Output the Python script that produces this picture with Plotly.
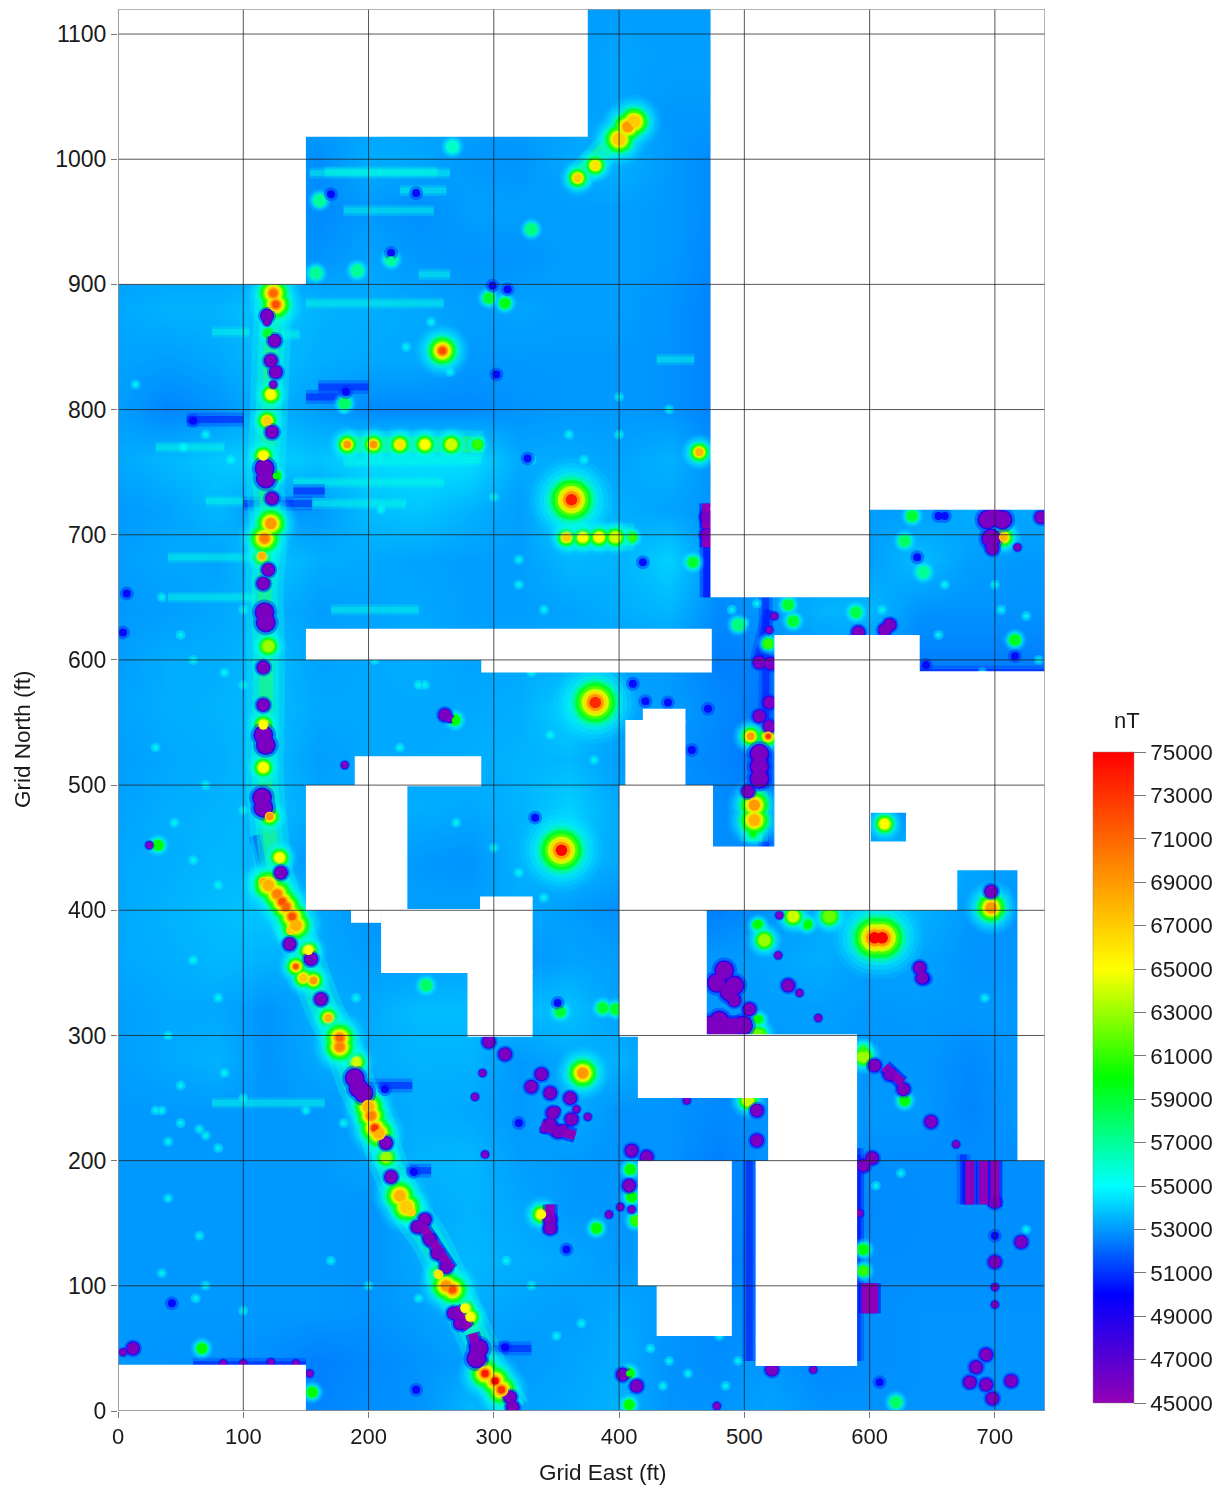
import plotly.graph_objects as go

# ---------- axis ticks ----------
east_ticks = [0, 100, 200, 300, 400, 500, 600, 700]
north_ticks = [0, 100, 200, 300, 400, 500, 600, 700, 800, 900, 1000, 1100]
bar_ticks = list(range(45000, 75001, 2000))

# ---------- colour scale ----------
scale_stops = [[0, "#9300b5"], [1/6, "#0000ff"], [2/6, "#00ffff"], [3/6, "#00ff00"],
               [4/6, "#ffff00"], [5/6, "#ff8000"], [1, "#ff0000"]]

# ---------- regional field, hundreds of nT, read top row (north 1120) to bottom (north 0) ----------
grid_east = [0, 40, 80, 120, 160, 200, 240, 280, 320, 360, 400, 440, 480, 520, 560, 600, 640, 680, 720, 760]
grid_north = list(range(1120, -1, -40))
grid_hundreds = [
 [531,531,531,531,531,531,531,531,531,531,531,531,531,531,531,531,531,531,531,531],
 [531,531,531,531,531,531,531,531,531,531,532,531,531,531,531,531,531,531,531,531],
 [531,531,531,531,531,531,531,531,531,531,532,530,530,531,531,531,531,531,531,531],
 [531,531,531,531,528,534,533,530,529,533,535,530,527,531,531,531,531,531,531,531],
 [531,531,531,531,527,530,528,531,531,531,531,530,527,531,531,531,531,531,531,531],
 [531,531,531,531,529,532,530,529,529,531,531,530,526,531,531,531,531,531,531,531],
 [533,535,535,539,535,534,533,531,532,531,531,529,525,531,531,531,531,531,531,531],
 [532,531,533,537,534,533,533,530,530,530,530,529,525,531,531,531,531,531,531,531],
 [531,526,529,535,531,527,527,527,529,530,530,529,525,531,531,531,531,531,531,531],
 [533,536,539,541,538,543,544,544,533,534,532,535,528,531,531,531,529,529,529,529],
 [530,532,536,529,530,537,539,535,531,541,534,532,529,531,531,531,531,534,533,533],
 [531,533,532,539,534,533,532,531,531,536,535,541,528,531,531,531,537,531,530,530],
 [530,531,533,535,531,532,533,531,531,532,534,536,527,530,535,536,529,529,529,529],
 [531,534,534,537,532,533,534,532,533,534,531,530,525,526,530,530,525,525,525,525],
 [532,534,535,537,533,533,533,533,534,541,533,531,527,523,529,529,529,529,529,529],
 [531,533,534,537,531,533,533,534,535,536,531,529,526,523,529,529,529,529,529,529],
 [532,534,535,537,533,533,534,533,535,541,533,530,528,525,529,529,529,529,529,529],
 [533,534,536,535,529,533,530,529,535,537,533,530,528,529,531,535,537,533,531,531],
 [533,535,537,539,533,529,531,531,533,531,528,527,525,529,533,539,535,530,529,529],
 [533,534,536,535,533,531,531,532,529,532,531,529,530,532,534,531,532,529,529,529],
 [531,533,533,529,534,533,537,537,536,538,531,529,530,531,531,530,530,530,530,530],
 [531,533,535,529,533,534,535,535,530,533,535,530,525,529,531,529,530,527,530,530],
 [530,530,530,530,530,531,534,533,530,534,529,529,527,529,529,530,530,526,530,533],
 [530,530,530,530,530,532,535,536,531,530,529,529,525,529,529,528,528,528,528,528],
 [530,530,530,530,530,529,533,535,533,530,530,531,525,529,529,527,528,528,528,528],
 [530,530,530,530,530,529,533,536,534,533,530,531,523,529,529,528,528,528,528,528],
 [530,530,530,530,530,529,531,534,532,531,533,530,527,529,527,528,529,529,529,529],
 [530,529,529,528,525,527,529,531,530,532,534,529,528,530,527,528,529,529,529,529],
 [530,529,529,529,526,528,529,536,532,533,535,529,529,532,529,529,529,529,529,529],
]

# ---------- positive anomalies ----------
hot_east = [362, 381, 354, 604, 610]
hot_north = [728, 566, 448, 378, 378]
hot_nt = [74000, 73500, 75000, 75000, 75000]

mid_east = [259, 371, 407, 400, 124, 126, 122, 117, 202, 205, 301, 293, 306, 177, 177, 267, 508, 508, 697, 131, 139, 120, 127, 134, 142, 200, 208, 230, 225, 412, 262]
mid_north = [847, 270, 1026, 1016, 893, 884, 709, 697, 236, 226, 24, 30, 17, 291, 298, 97, 484, 472, 402, 407, 395, 420, 413, 403, 388, 243, 222, 163, 172, 1030, 100]
mid_nt = [72000, 69000, 69000, 67000, 71000, 72000, 69000, 70000, 70000, 73000, 75000, 74000, 73000, 70000, 71000, 72000, 69000, 68000, 69000, 72000, 72000, 68000, 70000, 71000, 68000, 68000, 68000, 67000, 68000, 67000, 69000]

small_east = [381, 367, 183, 204, 225, 245, 266, 287, 358, 371, 384, 397, 410, 612, 464, 119, 122, 116, 115, 120, 116, 116,
              121, 129, 116, 125, 138, 152, 142, 148, 156, 168, 190, 214, 228, 234, 256, 277, 281, 505, 519, 707, 338,
              330, 296, 309, 267, 67, 155, 519, 459, 535, 539, 495, 589, 716, 628, 634, 643, 507, 628, 595, 595, 595, 595,
              516, 511, 539, 550, 568, 382, 409, 410, 413, 408, 408, 511, 511, 503, 387, 397, 621, 246, 353, 161, 158, 191, 218, 126, 32, 269, 120, 181]
small_north = [995, 985, 772, 772, 772, 772, 772, 772, 698, 698, 698, 698, 698, 469, 766, 791, 812, 763, 683, 611, 548, 514,
               475, 442, 423, 415, 384, 368, 355, 346, 344, 314, 279, 203, 167, 159, 109, 82, 75, 539, 539, 698, 157,
               944, 889, 885, 1010, 50, 15, 613, 678, 644, 631, 628, 638, 616, 695, 715, 670, 461, 248, 289, 283, 129, 112,
               376, 388, 395, 389, 395, 146, 193, 171, 152, 30, 5, 312, 300, 248, 322, 321, 7, 340, 319, 967, 909, 911, 920, 747, 452, 552, 861, 805]
small_nt = [66000, 67000, 69000, 69000, 66000, 65000, 64000, 61000, 67000, 65000, 65000, 64000, 61000, 65000, 68000, 67000, 65000, 65000, 68000, 63000, 65000, 65000,
            69000, 65000, 68000, 70000, 67000, 65000, 72000, 67000, 69000, 68000, 64000, 63000, 67000, 67000, 66000, 65000, 65000, 69000, 73000, 68000, 65000,
            57500, 59000, 59500, 56000, 60000, 60000, 61000, 59000, 59000, 59000, 57500, 58500, 59500, 58000, 59000, 57000, 60000, 60000, 61000, 63000, 60000, 61000,
            63000, 60000, 64000, 60000, 62000, 60000, 60000, 60000, 61000, 60000, 60000, 60000, 62000, 64000, 59000, 59000, 58000, 58000, 59000, 57000, 57000, 57000, 57000, 60000, 60000, 60000, 59000, 58000]

# ---------- negative anomalies ----------
low_big_east = [117, 118, 117, 118, 116, 118, 115, 116, 189, 192, 196, 288, 286, 484, 478, 492, 488, 480, 486, 472, 480, 490, 499, 512, 512, 512, 699, 706, 694, 697]
low_big_north = [753, 745, 638, 630, 540, 532, 490, 482, 266, 258, 254, 50, 42, 352, 342, 340, 335, 312, 305, 308, 304, 306, 308, 505, 515, 525, 714, 712, 712, 697]

low_med_east = [119, 125, 122, 126, 123, 120, 116, 116, 116, 130, 154, 214, 245, 239, 249, 255, 262, 268, 273, 313, 315, 12, 296, 309,
                330, 338, 345, 361, 362, 347, 351, 345, 261, 698, 737, 512, 521, 520, 512, 520, 503, 492, 504, 535, 616, 604, 627, 649,
                602, 595, 510, 510, 700, 693, 685, 693, 698, 713, 680, 721, 700, 403, 414, 408, 470, 470, 410, 422, 616, 612, 591, 522, 640, 642, 697, 345, 345, 137, 154, 162, 218, 123]
low_med_north = [875, 855, 839, 830, 782, 672, 661, 594, 564, 430, 361, 214, 153, 147, 137, 126, 115, 78, 70, 11, 3, 50, 295, 285,
                 259, 269, 254, 250, 233, 238, 223, 229, 556, 689, 714, 598, 597, 566, 555, 547, 495, 328, 321, 340, 269, 276, 257, 231,
                 202, 196, 240, 216, 119, 45, 35, 21, 10, 24, 23, 135, 167, 29, 20, 180, 714, 700, 208, 203, 628, 624, 622, 33, 354, 346, 415, 153, 146, 373, 361, 329, 187, 729]

low_small_east = [25, 181, 291, 285, 293, 4, 84, 100, 122, 142, 153, 527, 544, 559, 528, 410, 392, 401, 478, 454, 503, 555, 592, 669, 700, 700, 520, 524, 707, 718, 119, 124, 265, 340, 350, 356, 366, 375]
low_small_north = [452, 516, 270, 251, 205, 47, 38, 38, 39, 38, 30, 364, 334, 314, 396, 161, 157, 163, 4, 248, 296, 33, 158, 213, 99, 85, 624, 635, 711, 690, 870, 820, 553, 225, 240, 226, 241, 235]

dark_east = [170, 238, 218, 299, 311, 60, 182, 302, 327, 7, 4, 333, 351, 213, 236, 309, 238, 43, 358, 411, 421, 439, 458, 471, 419, 655, 638, 716, 645, 608, 320, 700, 645, 660]
dark_north = [972, 973, 925, 899, 896, 791, 814, 828, 761, 653, 622, 474, 326, 257, 191, 51, 17, 86, 129, 581, 567, 566, 528, 561, 678, 715, 682, 603, 596, 23, 230, 140, 345, 715]

# ---------- elongated lows: start east, start north, end east, end north ----------
bar_e0 = [680, 691, 700, 597, 603, 470, 512, 472, 240, 268, 283, 470, 116, 612, 338, 345]
bar_n0 = [200, 200, 200, 102, 102, 725, 500, 310, 152, 82, 62, 700, 495, 275, 228, 165]
bar_e1 = [680, 691, 700, 597, 603, 470, 512, 497, 266, 280, 290, 470, 116, 626, 365, 345]
bar_n1 = [165, 165, 163, 78, 78, 705, 530, 310, 113, 66, 38, 690, 480, 262, 220, 142]

# ---------- faint cyan speckle ----------
speck_east = [14, 52, 70, 90, 35, 50, 60, 100, 85, 100, 70, 30, 45, 60, 80, 100, 60, 80, 40, 85, 30, 70, 100, 40, 65, 180, 230, 250, 265, 210, 300, 320, 340, 350, 320, 330, 345,
              380, 420, 440, 470, 430, 225, 245, 270, 300, 320, 340, 400, 440, 360, 330, 372, 400, 205, 240, 490, 500, 510, 560, 570, 610, 660, 655, 700, 705, 725, 690, 735,
              35, 50, 65, 40, 50, 80, 160, 190, 150, 180, 170, 200, 240, 270, 310, 330, 350, 370, 425, 440, 455, 465, 435, 35, 70, 100, 62, 692, 725, 625, 605, 480, 495, 485]
speck_north = [820, 770, 780, 760, 650, 620, 600, 640, 590, 580, 500, 530, 470, 440, 420, 480, 360, 330, 300, 270, 240, 220, 250, 170, 140, 800, 850, 870, 830, 720, 730, 680, 640, 610, 660, 590, 540,
               520, 530, 470, 480, 440, 530, 580, 470, 450, 430, 410, 810, 800, 780, 760, 760, 780, 600, 580, 640, 630, 645, 660, 610, 640, 660, 620, 660, 640, 635, 590, 600,
               240, 230, 225, 215, 260, 210, 345, 330, 240, 230, 120, 100, 90, 70, 120, 100, 60, 70, 50, 40, 30, 80, 20, 110, 100, 80, 90, 330, 145, 190, 180, 60, 40, 20]

# ---------- main linear anomaly axis ----------
trend_east = [124, 122, 120, 118, 120, 117, 118, 118, 117, 120, 125, 135, 150, 165, 180, 190, 205, 215, 230, 250, 268, 285, 300, 315]
trend_north = [895, 840, 790, 740, 700, 660, 610, 560, 510, 470, 430, 400, 360, 320, 290, 262, 230, 200, 165, 135, 97, 60, 25, 0]

# ---------- short anomaly chains ----------
chain_e0 = [183, 358, 367, 508]
chain_n0 = [772, 698, 985, 495]
chain_e1 = [292, 412, 407, 508]
chain_n1 = [772, 698, 1026, 455]

# ---------- streaks: start east, start north, end east, end north ----------
bright_e0 = [153, 180, 240, 150, 180, 30, 70, 40, 140, 140, 75, 130, 75, 430, 170, 40, 165, 225]
bright_n0 = [989, 959, 908, 885, 758, 770, 727, 682, 725, 742, 246, 860, 862, 840, 640, 650, 990, 975]
bright_e1 = [265, 252, 265, 260, 290, 85, 105, 110, 230, 260, 165, 145, 105, 460, 240, 110, 255, 262]
bright_n1 = [989, 959, 908, 885, 760, 770, 727, 682, 725, 742, 246, 860, 862, 840, 640, 650, 990, 975]

dark_e0 = [100, 55, 160, 190, 470, 504, 517, 60, 298, 590, 675, 640, 520, 590, 140, 510, 150, 230, 470, 110]
dark_n0 = [725, 792, 818, 260, 650, 40, 450, 37, 50, 40, 205, 590, 190, 205, 735, 600, 810, 192, 720, 460]
dark_e1 = [155, 100, 200, 235, 470, 504, 517, 150, 330, 590, 675, 740, 540, 590, 165, 520, 180, 250, 470, 118]
dark_n1 = [725, 792, 818, 260, 720, 200, 650, 37, 50, 210, 165, 590, 190, 130, 735, 640, 810, 192, 650, 430]

# ---------- unsurveyed blocks: east min, east max, north min, north max ----------
blank_e0 = [0, 0, 473, 473, 524, 600, 600, 629, 638, 638, 718, 150, 290, 405, 419, 400, 474, 400, 415, 519, 415, 430, 509, 150, 189, 186, 210, 279, 289, 0]
blank_e1 = [375, 150, 740, 600, 601, 640, 640, 640, 740, 670, 740, 474, 474, 453, 453, 475, 525, 470, 590, 590, 490, 490, 590, 231, 290, 210, 331, 331, 331, 150]
blank_n0 = [1018, 900, 720, 650, 400, 478, 400, 454, 432, 400, 200, 600, 590, 499, 551, 400, 400, 299, 250, 199, 100, 60, 36, 400, 499, 390, 350, 299, 399, 0]
blank_n1 = [1120, 1020, 1120, 722, 620, 620, 455, 479, 591, 433, 433, 625, 601, 552, 561, 500, 451, 401, 301, 251, 200, 101, 200, 500, 523, 401, 401, 351, 411, 37]

fig = go.Figure()

fig.add_trace(go.Heatmap(
    x=grid_east, y=grid_north,
    z=[[v * 100 for v in row] for row in grid_hundreds],
    coloraxis="coloraxis", zsmooth="best", hoverinfo="skip"))


def segments(e0, n0, e1, n1):
    xs, ys = [], []
    for a, b, c, d in zip(e0, n0, e1, n1):
        xs += [a, c, None]
        ys += [b, d, None]
    return xs, ys


def dots(xs, ys, vals, size, opacity=1.0):
    fig.add_trace(go.Scatter(
        x=xs, y=ys, mode="markers", hoverinfo="skip", showlegend=False, opacity=opacity,
        marker=dict(size=size, color=vals, coloraxis="coloraxis", line=dict(width=0))))


def band(xs, ys, color, width, shape="linear"):
    fig.add_trace(go.Scatter(x=xs, y=ys, mode="lines", showlegend=False, hoverinfo="skip",
                             line=dict(color=color, width=width, shape=shape)))


bx, by = segments(bright_e0, bright_n0, bright_e1, bright_n1)
band(bx, by, "rgba(0,255,225,0.24)", 11)
band(bx, by, "rgba(0,255,225,0.38)", 6)
dx, dy = segments(dark_e0, dark_n0, dark_e1, dark_n1)
band(dx, dy, "rgba(0,40,255,0.32)", 14)
band(dx, dy, "rgba(0,20,255,0.52)", 7)
band(trend_east, trend_north, "rgba(0,255,230,0.30)", 38, "spline")
band(trend_east, trend_north, "rgba(0,255,200,0.42)", 26, "spline")
band(trend_east, trend_north, "rgba(40,255,90,0.48)", 14, "spline")
cx, cy = segments(chain_e0, chain_n0, chain_e1, chain_n1)
band(cx, cy, "rgba(0,255,210,0.32)", 28)
band(cx, cy, "rgba(30,255,70,0.7)", 16)

dots(speck_east, speck_north, [54800] * len(speck_east), 10, 0.45)
dots(speck_east, speck_north, [55500] * len(speck_east), 5, 0.65)

rings = [(3.6, 54500, 0.16), (3.2, 54800, 0.2), (2.8, 55300, 0.28), (2.4, 56000, 0.4),
         (2.05, 57500, 0.65), (1.75, 59500, 0.85), (1.45, 61500, 0.9), (1.2, 64000, 1.0)]
inner = [(0.95, 66500), (0.75, 69000), (0.5, 99999)]

weak_idx = [i for i, v in enumerate(small_nt) if v < 62000]
strong_idx = [i for i, v in enumerate(small_nt) if v >= 62000]
classes = [([small_east[i] for i in weak_idx], [small_north[i] for i in weak_idx], [small_nt[i] for i in weak_idx], 6.5),
           ([small_east[i] for i in strong_idx], [small_north[i] for i in strong_idx], [small_nt[i] for i in strong_idx], 10),
           (mid_east, mid_north, mid_nt, 15),
           (hot_east, hot_north, hot_nt, 23)]
for ex, no, nt, base in classes:
    for mult, val, op in rings:
        dots(ex, no, [min(v, val) for v in nt], base * mult, op)

dots(dark_east, dark_north, [50800] * len(dark_east), 14, 0.45)
dots(dark_east, dark_north, [49800] * len(dark_east), 8, 0.9)

lows = [(low_big_east, low_big_north, 17), (low_med_east, low_med_north, 12), (low_small_east, low_small_north, 7)]
gx, gy = segments(bar_e0, bar_n0, bar_e1, bar_n1)
band(gx, gy, "rgba(0,0,255,0.55)", 15)
for ex, no, base in lows:
    dots(ex, no, [50800] * len(ex), base * 1.5, 0.45)
    dots(ex, no, [48800] * len(ex), base * 1.18, 0.9)
band(gx, gy, "#8f00b8", 9)
for ex, no, base in lows:
    dots(ex, no, [45800] * len(ex), base)

for ex, no, nt, base in classes:
    for mult, val in inner:
        dots(ex, no, [min(v, val) for v in nt], base * mult)

shapes = []
for a, b, c, d in zip(blank_e0, blank_e1, blank_n0, blank_n1):
    shapes.append(dict(type="rect", layer="above", x0=a, x1=b, y0=c, y1=d,
                       fillcolor="white", line=dict(width=0)))
grid_line = dict(color="rgba(30,30,30,0.75)", width=1)
for t in east_ticks:
    shapes.append(dict(type="line", layer="above", x0=t, x1=t, y0=0, y1=1120, line=grid_line))
for t in north_ticks:
    shapes.append(dict(type="line", layer="above", x0=0, x1=740, y0=t, y1=t, line=grid_line))
shapes.append(dict(type="rect", layer="above", x0=0, x1=740, y0=0, y1=1120,
                   line=dict(color="#9a9a9a", width=1.5)))

page_w, page_h = 1217, 1481
left, top, plot_w, plot_h = 110, 1, 927, 1402
font = "Liberation Sans, Arial, sans-serif"


def ann(text, px, py, size, angle=0):
    return dict(text=text, xref="paper", yref="paper", showarrow=False, textangle=angle,
                x=(px - 8 - left) / plot_w, y=1 - (py - 8 - top) / plot_h,
                xanchor="center", yanchor="middle", font=dict(size=size, color="#1a1a1a"))


fig.update_layout(
    width=page_w, height=page_h, autosize=False,
    margin=dict(l=left, r=page_w - left - plot_w, t=top, b=page_h - top - plot_h),
    paper_bgcolor="white", plot_bgcolor="white",
    font=dict(family=font, size=22, color="#1a1a1a"),
    showlegend=False, shapes=shapes,
    annotations=[ann("Grid East (ft)", 603, 1473, 22.5),
                 ann("Grid North (ft)", 22, 739, 22.5, -90),
                 ann("nT", 1127, 720, 22)],
    xaxis=dict(range=[0, 740], tickvals=east_ticks, showgrid=False, zeroline=False,
               ticks="outside", ticklen=6, tickcolor="#777", tickfont=dict(size=22)),
    yaxis=dict(range=[0, 1120], tickvals=north_ticks, showgrid=False, zeroline=False,
               ticks="outside", ticklen=6, tickcolor="#777", tickfont=dict(size=23)),
    coloraxis=dict(
        cmin=45000, cmax=75000, colorscale=scale_stops,
        colorbar=dict(
            x=(1093 - 8 - left) / plot_w, xanchor="left", xpad=0,
            y=1 - (752 - 8 - top) / plot_h, yanchor="top", ypad=0,
            lenmode="pixels", len=651, thicknessmode="pixels", thickness=41,
            outlinewidth=0.5, outlinecolor="#888", tickvals=bar_ticks,
            ticks="outside", ticklen=12, tickcolor="#777", tickfont=dict(size=22.5),
            tickformat="d")),
)
fig.write_html("out.html")
